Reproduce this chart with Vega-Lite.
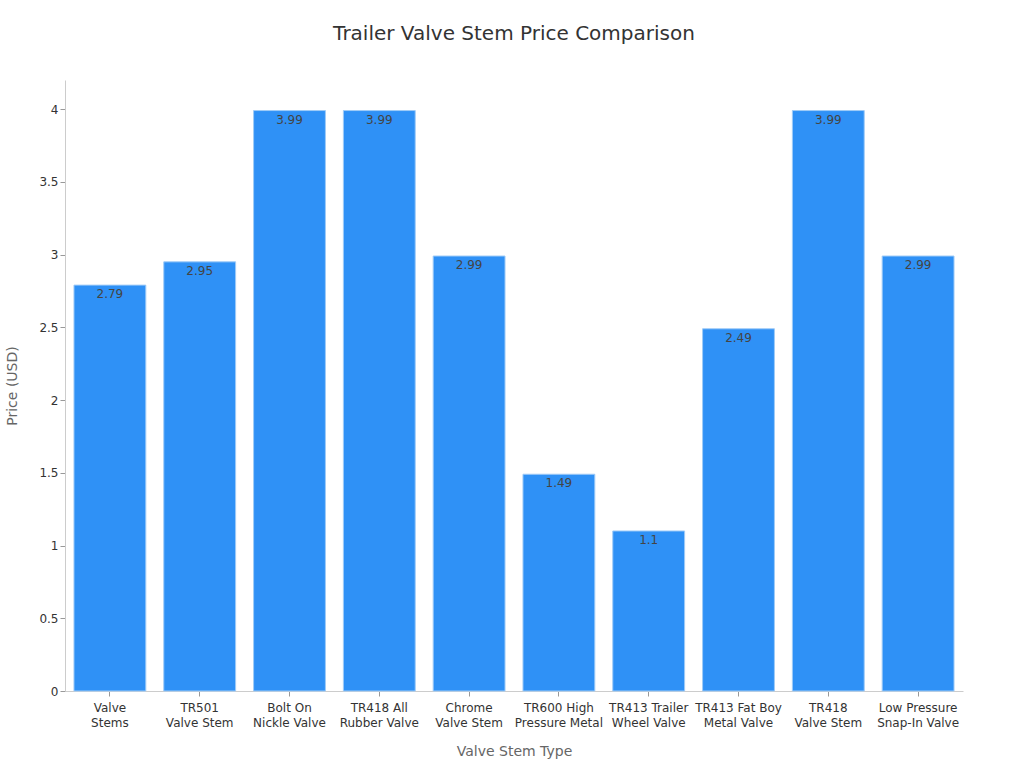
{
  "$schema": "https://vega.github.io/schema/vega-lite/v6.json",
  "width": 898,
  "height": 611,
  "autosize": "none",
  "padding": {"left": 65, "top": 80, "right": 61, "bottom": 77},
  "background": "white",
  "title": {
    "text": "Trailer Valve Stem Price Comparison",
    "font": "DejaVu Sans",
    "fontSize": 20,
    "fontWeight": "normal",
    "color": "#333333",
    "offset": 36
  },
  "config": {
    "view": {"stroke": null},
    "font": "DejaVu Sans"
  },
  "data": {
    "values": [
      {"type": "Valve|Stems", "price": 2.79},
      {"type": "TR501|Valve Stem", "price": 2.95},
      {"type": "Bolt On|Nickle Valve", "price": 3.99},
      {"type": "TR418 All|Rubber Valve", "price": 3.99},
      {"type": "Chrome|Valve Stem", "price": 2.99},
      {"type": "TR600 High|Pressure Metal", "price": 1.49},
      {"type": "TR413 Trailer|Wheel Valve", "price": 1.1},
      {"type": "TR413 Fat Boy|Metal Valve", "price": 2.49},
      {"type": "TR418|Valve Stem", "price": 3.99},
      {"type": "Low Pressure|Snap-In Valve", "price": 2.99}
    ]
  },
  "encoding": {
    "x": {
      "field": "type",
      "type": "nominal",
      "sort": null,
      "scale": {"paddingInner": 0.2, "paddingOuter": 0.1},
      "axis": {
        "title": "Valve Stem Type",
        "titleFont": "DejaVu Sans",
        "titleFontSize": 14,
        "titleFontWeight": "normal",
        "titleColor": "#666666",
        "titlePadding": 16,
        "labelAngle": 0,
        "labelExpr": "split(datum.label, '|')",
        "labelFontSize": 12,
        "labelLineHeight": 15,
        "labelColor": "#333333",
        "labelPadding": 6,
        "domainColor": "#cccccc",
        "tickColor": "#999999",
        "tickSize": 5
      }
    },
    "y": {
      "field": "price",
      "type": "quantitative",
      "scale": {"domain": [0, 4.2], "nice": false},
      "axis": {
        "title": "Price (USD)",
        "titleFont": "DejaVu Sans",
        "titleFontSize": 14,
        "titleFontWeight": "normal",
        "titleColor": "#666666",
        "titlePadding": 19,
        "values": [0, 0.5, 1, 1.5, 2, 2.5, 3, 3.5, 4],
        "format": "~g",
        "labelFontSize": 12,
        "labelColor": "#333333",
        "grid": false,
        "domainColor": "#cccccc",
        "tickColor": "#999999",
        "tickSize": 5
      }
    }
  },
  "layer": [
    {
      "mark": {"type": "bar", "color": "#2f91f6", "stroke": "#9fcbf7", "strokeWidth": 1}
    },
    {
      "mark": {"type": "text", "baseline": "top", "dy": 4, "fontSize": 12, "color": "#444444"},
      "encoding": {"text": {"field": "price", "type": "quantitative"}}
    }
  ]
}
